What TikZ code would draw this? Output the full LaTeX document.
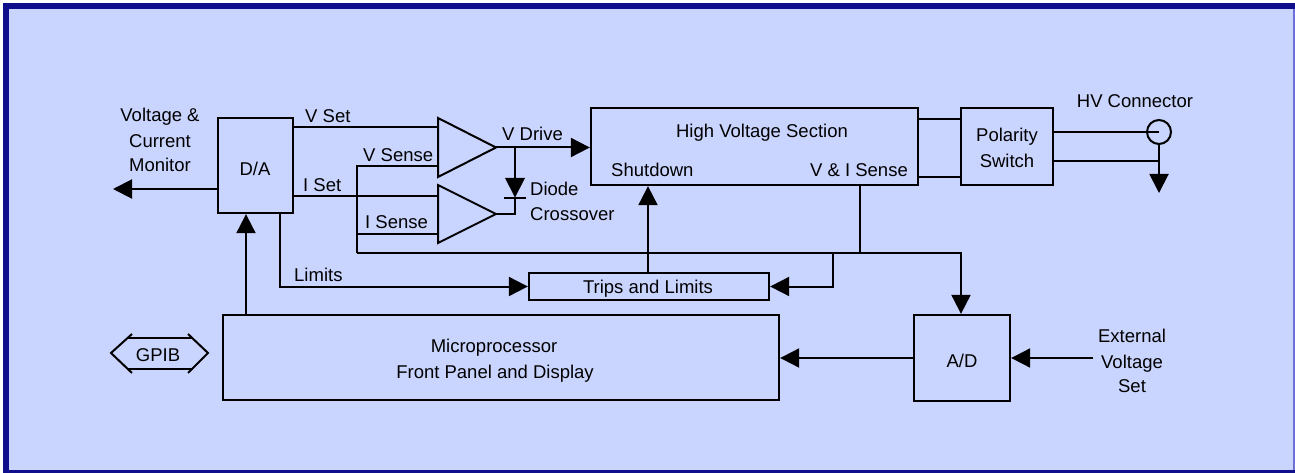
\documentclass[tikz,border=0pt]{standalone}
\usepackage{fontspec}
\setmainfont{Liberation Sans}
\usetikzlibrary{arrows.meta,calc}
\definecolor{bgblue}{RGB}{202,213,255}
\definecolor{navy}{RGB}{16,16,140}
\definecolor{edgeblue}{RGB}{110,110,215}
\begin{document}
\begin{tikzpicture}[x=1pt,y=-1pt,
  every node/.style={font=\fontsize{18.5}{22}\selectfont, inner sep=0pt},
  box/.style={draw, line width=2.3pt, rectangle, inner sep=0pt},
  wire/.style={line width=2pt},
  arr/.style={line width=2pt, -{Triangle[length=19pt,width=19pt]}},
  lbl/.style={anchor=base west},
  lblc/.style={anchor=base}
]
\useasboundingbox (0,0) rectangle (1295,473);
% frame
\fill[white] (0,0) rectangle (1295,473);
\fill[navy] (3,3) rectangle (1295,473);
\fill[bgblue] (9,9) rectangle (1295,470);
\fill[edgeblue] (1293,9) rectangle (1295,470);

% boxes
\node[box, minimum width=75pt, minimum height=95pt] (da) at (255.5,165.5) {};
\node[lblc] (datxt) at (255,176) {D/A};
\node[box, minimum width=327pt, minimum height=77pt] (hv) at (754.5,146.5) {};
\node[lblc] (hvtxt) at (762,138) {High Voltage Section};
\node[lbl] (shut) at (611,177) {Shutdown};
\node[anchor=base east] (visense) at (908,177) {V \& I Sense};
\node[box, minimum width=92pt, minimum height=77pt] (pol) at (1007,146.5) {};
\node[lblc] (pol1) at (1007,142) {Polarity};
\node[lblc] (pol2) at (1007,168) {Switch};
\node[box, minimum width=240pt, minimum height=27pt] (trips) at (649,286.5) {};
\node[lblc] (tripstxt) at (648,293) {Trips and Limits};
\node[box, minimum width=556pt, minimum height=85pt] (micro) at (501,357.5) {};
\node[lblc] (mic1) at (494,352) {Microprocessor};
\node[lblc] (mic2) at (495,378) {Front Panel and Display};
\node[box, minimum width=96pt, minimum height=86pt] (ad) at (962,358) {};
\node[lblc] (adtxt) at (962,367) {A/D};

% free texts
\node[lblc] (vcm1) at (160,122) {Voltage \&};
\node[lblc] (vcm2) at (160,148) {Current};
\node[lblc] (vcm3) at (160,172) {Monitor};
\node[lblc] (hvc) at (1135,108) {HV Connector};
\node[lblc] (ext1) at (1132,342) {External};
\node[lblc] (ext2) at (1132,368) {Voltage};
\node[lblc] (ext3) at (1132,392) {Set};
\node[lbl] (vset) at (305,123) {V Set};
\node[lbl] (iset) at (303,192) {I Set};
\node[lbl] (vsense) at (363,162) {V Sense};
\node[lbl] (isense) at (365,229) {I Sense};
\node[lbl] (vdrive) at (502,141) {V Drive};
\node[lbl] (lim) at (294,281) {Limits};
\node[lbl] (diode1) at (530,196) {Diode};
\node[lbl] (diode2) at (530,221) {Crossover};

% amplifiers
\coordinate (a1a) at (438,127);
\coordinate (a1b) at (438,166);
\coordinate (a1o) at (496,147.5);
\coordinate (a2a) at (438,196);
\coordinate (a2b) at (438,234);
\coordinate (a2o) at (496,214);
\draw[line width=2pt, line join=miter] (438,118) -- (a1o) -- (438,177) -- cycle;
\draw[line width=2pt, line join=miter] (438,185) -- (a2o) -- (438,243) -- cycle;

% coordinates
\coordinate (mon) at (113,189);
\coordinate (j1) at (357,166);
\coordinate (j2) at (357,253);
\coordinate (j3) at (961,253);
\coordinate (jd) at (515,147.5);
\coordinate (dtop) at (515,178);
\coordinate (dbar) at (515,198);
\coordinate (jd2) at (515,214);
\coordinate (jvi) at (860,185);
\coordinate (jb) at (833,253);
\coordinate (jl) at (280,213);
\coordinate (jup) at (246,315);
\coordinate (extin) at (1093,358);
\coordinate (conn) at (1159,132);
\coordinate (connb) at (1159,144);
\coordinate (gnd) at (1159,161);
\coordinate (gndtip) at (1159,193);

% connectors
\draw[arr] (da.west |- mon) -- (mon);
\draw[wire] (da.east |- a1a) -- (a1a);
\draw[wire] (da.east |- a2a) -- (a2a);
\draw[wire] (a1b) -- (j1) -- (j2);
\draw[wire] (a2b) -- (j1 |- a2b);
\draw[arr] (j2) -- (j3) -- (ad.north -| j3);
\draw[wire] (jvi) -- (jvi |- j2);
\draw[arr] (jb) |- (trips.east);
\draw[arr] (a1o) -- (hv.west |- a1o);
\draw[wire] (jd) -- (dtop);
\fill (505,178) -- (525,178) -- (515,197.5) -- cycle;
\draw[wire] (504,198) -- (526,198);
\draw[wire] (dbar) -- (jd2) -- (a2o);
\draw[arr] (trips.north -| 648,0) -- (hv.south -| 648,0);
\draw[arr] (jl) |- (trips.west);
\draw[arr] (jup) -- (da.south -| jup);
\draw[arr] (ad.west) -- (micro.east |- ad.west);
\draw[arr] (extin) -- (ad.east);
\draw[wire] (hv.east |- 0,119) -- (pol.west |- 0,119);
\draw[wire] (hv.east |- 0,177) -- (pol.west |- 0,177);
\draw[wire] (pol.east |- conn) -- (conn);
\draw[wire] (conn) circle[radius=12pt];
\draw[wire] (pol.east |- gnd) -- (gnd);
\draw[arr] (connb) -- (gndtip);

% GPIB
\node[lblc] (gpib) at (158,361) {GPIB};
\draw[wire] (132,334) -- (111,353) -- (132,373);
\draw[wire] (188,334) -- (208,353) -- (188,373);
\draw[wire] (127,338) -- (193,338);
\draw[wire] (127,369) -- (193,369);
\end{tikzpicture}
\end{document}
